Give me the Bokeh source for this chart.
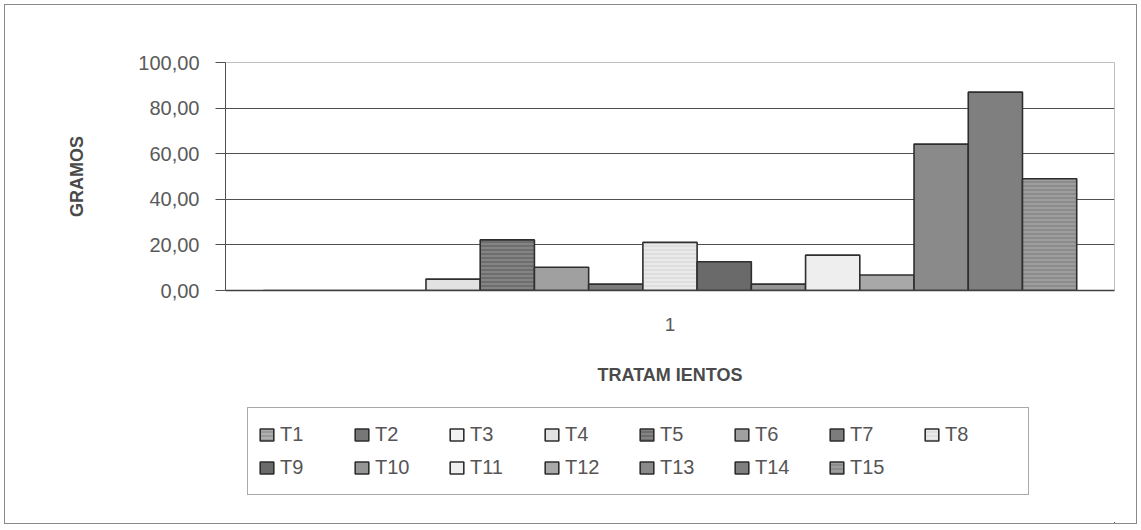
from bokeh.plotting import figure
from bokeh.models import FactorRange, Range1d, Legend, LegendItem, FixedTicker, ColumnDataSource
from bokeh.layouts import column
from bokeh.transform import dodge
from bokeh.embed import file_html
from bokeh.resources import INLINE

# ---- data ----
categories = ["1"]
series = ["T1", "T2", "T3", "T4", "T5", "T6", "T7", "T8",
          "T9", "T10", "T11", "T12", "T13", "T14", "T15"]
values = [0.0, 0.0, 0.0, 5.0, 22.2, 10.2, 2.8, 21.1,
          12.6, 2.8, 15.5, 6.8, 64.2, 87.0, 49.0]
ytick_values = [0, 20, 40, 60, 80, 100]
ytick_labels = ["0,00", "20,00", "40,00", "60,00", "80,00", "100,00"]

# ---- styles ----
colors = ["#9a9a9a", "#777777", "#f2f2f2", "#e2e2e2", "#6e6e6e", "#a0a0a0", "#7c7c7c", "#dedede",
          "#6a6a6a", "#959595", "#eeeeee", "#a8a8a8", "#8a8a8a", "#7f7f7f", "#8c8c8c"]
hatched = [True, False, False, False, True, False, False, True,
           False, False, False, False, False, False, True]
hatch_cols = ["#c4c4c4", None, None, None, "#9a9a9a", None, None, "#f4f4f4",
              None, None, None, None, None, None, "#b0b0b0"]

FONT = "Liberation Sans"
W = 1131

p = figure(width=W, height=395, output_backend="svg", toolbar_location=None,
           x_range=FactorRange(factors=categories, range_padding=0),
           y_range=Range1d(0, 100),
           min_border_left=220, min_border_top=57, min_border_right=22, min_border_bottom=110)
p.outline_line_color = "#c0c0c0"
p.background_fill_color = "white"

bar_w = 0.061


def bar_style(i):
    kw = dict(fill_color=colors[i], line_color="#2e2e2e", line_width=1.6)
    if hatched[i]:
        kw.update(hatch_pattern="horizontal_line", hatch_color=hatch_cols[i],
                  hatch_scale=4, hatch_weight=1)
    return kw


sources = []
for i, (name, v) in enumerate(zip(series, values)):
    src = ColumnDataSource(dict(x=categories, top=[v]))
    sources.append(src)
    p.vbar(x=dodge("x", (i - 7) * bar_w, range=p.x_range), top="top", bottom=0,
           width=bar_w, source=src, **bar_style(i))

# grid
p.xgrid.grid_line_color = None
p.ygrid.grid_line_color = "#505050"
p.ygrid.grid_line_width = 1
p.ygrid.ticker = FixedTicker(ticks=ytick_values)

# y axis
ya = p.yaxis[0]
ya.ticker = FixedTicker(ticks=ytick_values)
ya.major_label_overrides = {v: s for v, s in zip(ytick_values, ytick_labels)}
ya.major_label_text_font = FONT
ya.major_label_text_font_size = "20px"
ya.major_label_text_color = "#5a5a5a"
ya.major_tick_out = 10
ya.major_tick_in = 0
ya.minor_tick_out = 0
ya.minor_tick_in = 0
ya.major_label_standoff = 16
ya.axis_line_color = "#505050"
ya.major_tick_line_color = "#505050"
ya.axis_label = "GRAMOS"
ya.axis_label_text_font = FONT
ya.axis_label_text_font_size = "18px"
ya.axis_label_text_font_style = "bold"
ya.axis_label_text_color = "#4a4a4a"
ya.axis_label_standoff = 48

# x axis
xa = p.xaxis[0]
xa.major_tick_line_color = None
xa.axis_line_color = "#404040"
xa.axis_line_width = 1.5
xa.major_label_text_font = FONT
xa.major_label_text_font_size = "19px"
xa.major_label_text_color = "#5a5a5a"
xa.major_label_standoff = 21
xa.axis_label = "TRATAM IENTOS"
xa.axis_label_text_font = FONT
xa.axis_label_text_font_size = "18px"
xa.axis_label_text_font_style = "bold"
xa.axis_label_text_color = "#4a4a4a"
xa.axis_label_standoff = 31

# legend figure (below the chart); its bars are shifted far outside its
# visible ranges, only their legend swatches are drawn
pl = figure(width=W, height=123, output_backend="svg", toolbar_location=None,
            x_range=FactorRange(factors=categories, range_padding=0), y_range=Range1d(200, 300),
            x_axis_location=None, y_axis_location=None, min_border=0)
pl.outline_line_color = None
pl.xgrid.grid_line_color = None
pl.ygrid.grid_line_color = None

leg_renderers = []
for i, name in enumerate(series):
    r = pl.vbar(x=dodge("x", 20.0, range=pl.x_range), top="top", bottom=0, width=bar_w,
                source=sources[i], **bar_style(i))
    leg_renderers.append(r)

items = [LegendItem(label=n, renderers=[r]) for n, r in zip(series, leg_renderers)]
legend = Legend(items=items, location=(22, 28), orientation="horizontal", ncols=8,
                glyph_width=17, glyph_height=15, label_standoff=5, label_width=73,
                label_height=33, spacing=0, padding=10, margin=0,
                label_text_font=FONT, label_text_font_size="20px",
                label_text_color="#555555", border_line_color="#555555",
                border_line_width=1, background_fill_color="white")
pl.add_layout(legend, "center")

layout = column(p, pl, spacing=0,
                styles={"border": "1px solid #8a8a8a", "margin": "4px 0 0 4px"})

open("out.html", "w").write(file_html(layout, INLINE))
